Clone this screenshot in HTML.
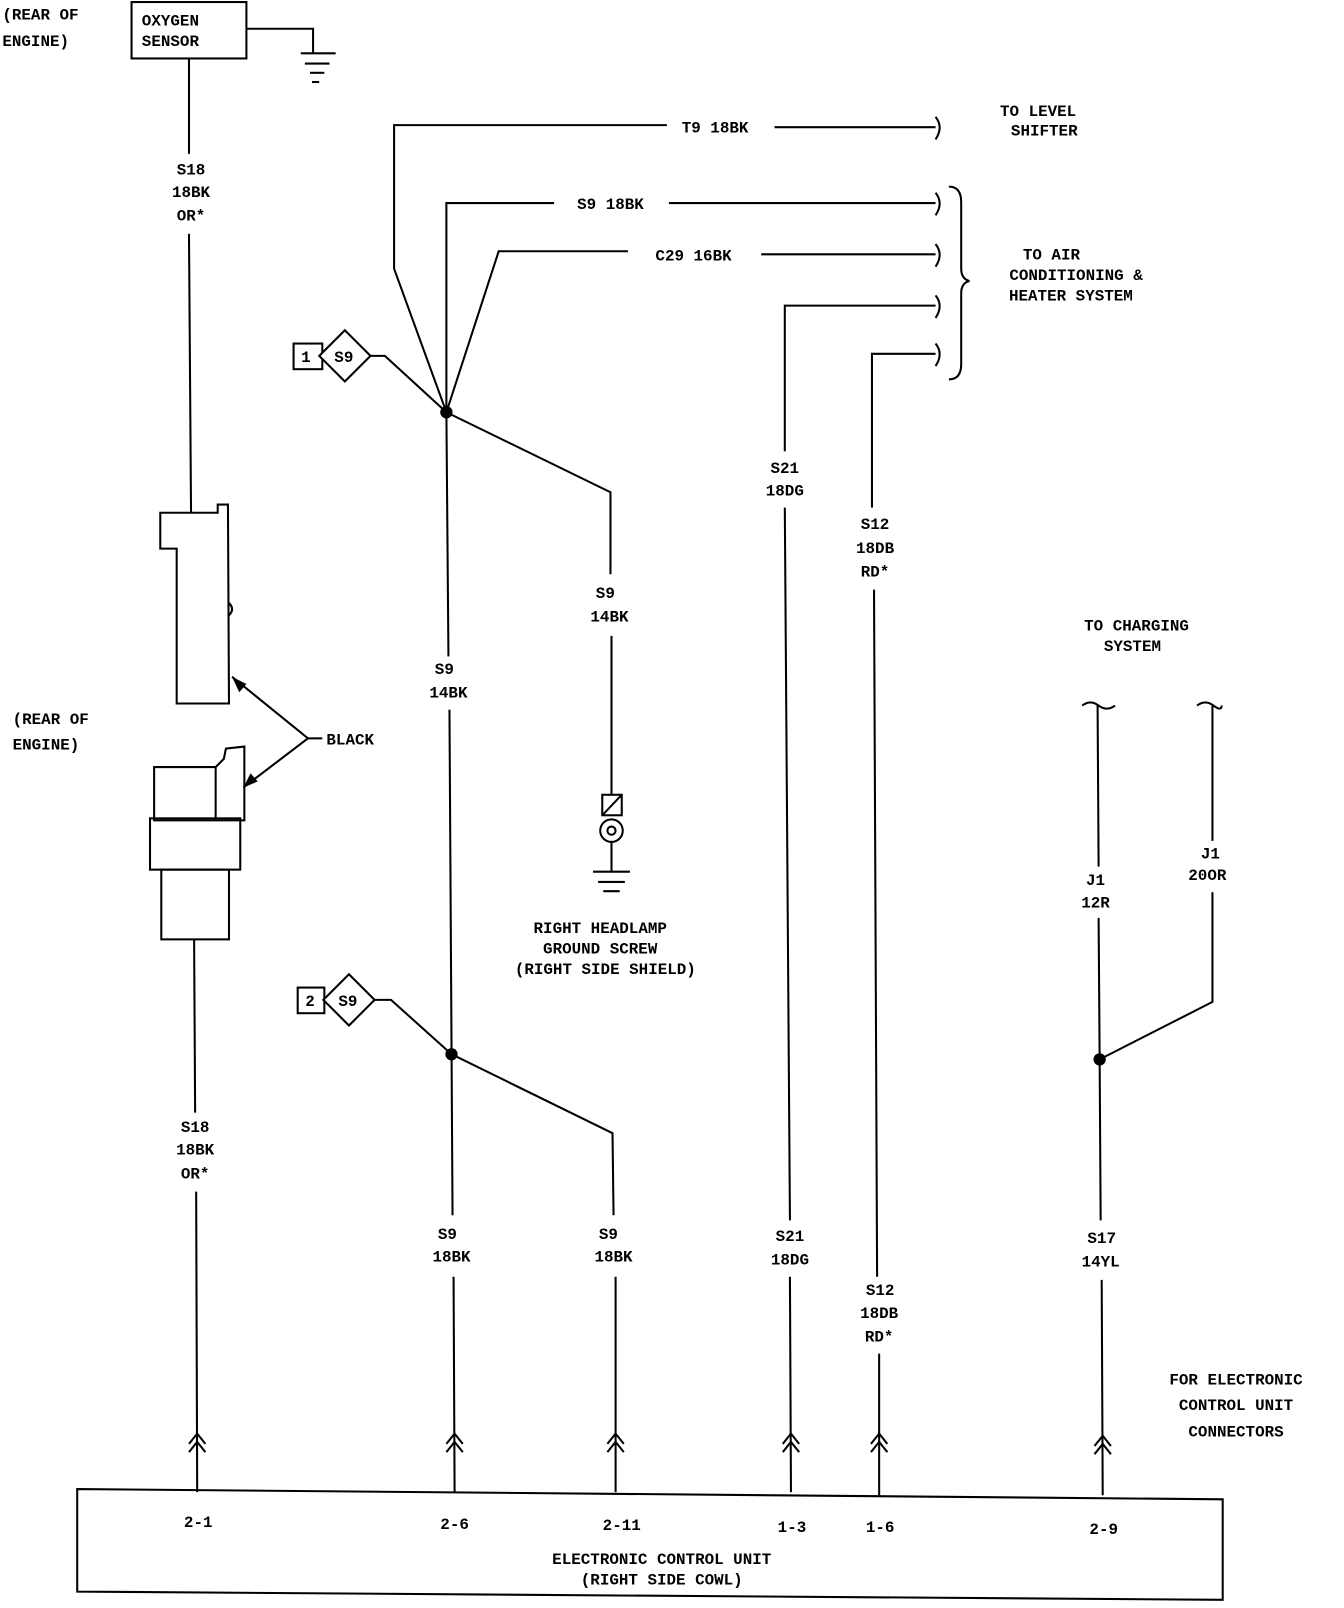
<!DOCTYPE html>
<html><head><meta charset="utf-8"><style>
html,body{margin:0;padding:0;background:#fff;}
svg{display:block;}
text{font-family:"Liberation Mono",monospace;font-size:15.5px;font-weight:bold;fill:#000;text-anchor:middle;}
.l{text-anchor:start;}
</style></head><body>
<svg width="1344" height="1608" viewBox="0 0 1310 1568" xmlns="http://www.w3.org/2000/svg">
<g stroke="#000" stroke-width="2" fill="none">
<rect x="128" y="2" width="112" height="55"/>
<polyline points="240,28 305,28 305,52"/>
<line x1="293" y1="52" x2="327" y2="52"/><line x1="297" y1="62" x2="321" y2="62"/>
<line x1="302" y1="71" x2="316" y2="71"/><line x1="304" y1="80" x2="311" y2="80"/>
<line x1="184" y1="57" x2="184" y2="150"/>
<line x1="184" y1="228" x2="186" y2="500"/>
<path d="M156,500 L212,500 L212,492 L222,492 L223,686 L172,686 L172,535 L156,535 Z"/>
<path d="M223,588 q6,6 0,12"/>
<path d="M150,800 L150,748 L210,748 L218,740 L220,730 L238,728 L238,800 Z M210,748 L210,798"/>
<rect x="146" y="798" width="88" height="50"/>
<rect x="157" y="848" width="66" height="68"/>
<polyline points="226,660 300,720 237,768"/>
<line x1="300" y1="720" x2="314" y2="720"/>
<line x1="189" y1="916" x2="190" y2="1085"/>
<line x1="191" y1="1162" x2="192" y2="1455"/>
<rect x="286" y="335" width="28" height="25"/>
<polygon points="336,322 361,347 336,372 311,347" fill="#fff"/>
<polyline points="361,347 375,347 435,402"/>
<polyline points="435,402 384,262 384,122 650,122"/>
<line x1="755" y1="124" x2="912" y2="124"/>
<polyline points="435,402 435,198 540,198"/>
<line x1="652" y1="198" x2="912" y2="198"/>
<polyline points="435,402 486,245 612,245"/>
<line x1="742" y1="248" x2="912" y2="248"/>
<polyline points="765,440 765,298 912,298"/>
<line x1="765" y1="495" x2="770" y2="1190"/>
<polyline points="850,495 850,345 912,345"/>
<line x1="852" y1="575" x2="855" y2="1245"/>
<line x1="857" y1="1320" x2="857" y2="1458"/>
<line x1="770" y1="1245" x2="771" y2="1455"/>
<path d="M912,114 q8,10 0,22 M912,188 q8,10 0,22 M912,238 q8,10 0,22 M912,288 q8,10 0,22 M912,335 q8,10 0,22"/>
<path d="M925,182 q12,0 12,15 L937,262 q0,10 8,12 q-8,2 -8,12 L937,355 q0,15 -12,15"/>
<polyline points="435,402 595,480 595,560"/>
<line x1="596" y1="620" x2="596" y2="775"/>
<rect x="587" y="775" width="19" height="20"/>
<line x1="587" y1="795" x2="606" y2="775"/>
<circle cx="596" cy="810" r="11"/><circle cx="596" cy="810" r="4"/>
<line x1="596" y1="821" x2="596" y2="850"/>
<line x1="578" y1="850" x2="614" y2="850"/><line x1="583" y1="860" x2="609" y2="860"/><line x1="588" y1="869" x2="604" y2="869"/>
<line x1="435" y1="402" x2="437" y2="640"/>
<line x1="438" y1="692" x2="441" y2="1185"/>
<line x1="442" y1="1245" x2="443" y2="1455"/>
<rect x="290" y="963" width="26" height="25"/>
<polygon points="340,950 365,975 340,1000 315,975" fill="#fff"/>
<polyline points="365,975 381,975 440,1028"/>
<polyline points="440,1028 597,1105 598,1185"/>
<line x1="600" y1="1245" x2="600" y2="1455"/>
<path d="M1055,688 q8,-6 16,0 q8,6 16,0 M1167,688 q8,-6 16,0 q8,6 8,0"/>
<line x1="1070" y1="688" x2="1071" y2="845"/>
<line x1="1071" y1="895" x2="1072" y2="1033"/>
<line x1="1182" y1="688" x2="1182" y2="820"/>
<polyline points="1182,870 1182,977 1072,1033"/>
<line x1="1072" y1="1033" x2="1073" y2="1190"/>
<line x1="1074" y1="1248" x2="1075" y2="1458"/>
<polygon points="75,1452 1192,1462 1192,1560 75,1552"/>
<path d="M184,1408 l8,-10 l8,10 M184,1416 l8,-10 l8,10 M435,1408 l8,-10 l8,10 M435,1416 l8,-10 l8,10 M592,1408 l8,-10 l8,10 M592,1416 l8,-10 l8,10 M763,1408 l8,-10 l8,10 M763,1416 l8,-10 l8,10 M849,1408 l8,-10 l8,10 M849,1416 l8,-10 l8,10 M1067,1410 l8,-10 l8,10 M1067,1418 l8,-10 l8,10"/>
</g>
<g fill="#000">
<polygon points="226,660 240,667 233,675"/>
<polygon points="237,768 244,754 251,762"/>
<circle cx="435" cy="402" r="6"/><circle cx="440" cy="1028" r="6"/><circle cx="1072" cy="1033" r="6"/>
</g>
<text class="l" x="2" y="19">(REAR OF</text><text class="l" x="2" y="45">ENGINE)</text>
<text class="l" x="138" y="25">OXYGEN</text><text class="l" x="138" y="45">SENSOR</text>
<text x="186" y="170">S18</text><text x="186" y="192">18BK</text><text x="186" y="215">OR*</text>
<text class="l" x="12" y="706">(REAR OF</text><text class="l" x="12" y="731">ENGINE)</text>
<text class="l" x="318" y="726">BLACK</text>
<text x="190" y="1104">S18</text><text x="190" y="1126">18BK</text><text x="190" y="1149">OR*</text>
<text x="298" y="353">1</text><text x="335" y="353">S9</text>
<text x="302" y="981">2</text><text x="339" y="981">S9</text>
<text x="697" y="129">T9 18BK</text>
<text x="595" y="204">S9 18BK</text>
<text x="676" y="254">C29 16BK</text>
<text x="1012" y="113">TO LEVEL</text><text x="1018" y="132">SHIFTER</text>
<text x="1025" y="253">TO AIR</text><text x="1049" y="273">CONDITIONING &amp;</text><text x="1044" y="293">HEATER SYSTEM</text>
<text x="765" y="461">S21</text><text x="765" y="483">18DG</text>
<text x="853" y="516">S12</text><text x="853" y="539">18DB</text><text x="853" y="562">RD*</text>
<text x="590" y="583">S9</text><text x="594" y="606">14BK</text>
<text x="433" y="657">S9</text><text x="437" y="680">14BK</text>
<text x="585" y="910">RIGHT HEADLAMP</text><text x="585" y="930">GROUND SCREW</text><text x="590" y="950">(RIGHT SIDE SHIELD)</text>
<text x="1108" y="615">TO CHARGING</text><text x="1104" y="635">SYSTEM</text>
<text x="1068" y="863">J1</text><text x="1068" y="885">12R</text>
<text x="1180" y="837">J1</text><text x="1177" y="858">20OR</text>
<text x="436" y="1208">S9</text><text x="440" y="1230">18BK</text>
<text x="593" y="1208">S9</text><text x="598" y="1230">18BK</text>
<text x="770" y="1210">S21</text><text x="770" y="1233">18DG</text>
<text x="858" y="1263">S12</text><text x="857" y="1285">18DB</text><text x="857" y="1308">RD*</text>
<text x="1074" y="1212">S17</text><text x="1073" y="1235">14YL</text>
<text x="1205" y="1350">FOR ELECTRONIC</text><text x="1205" y="1375">CONTROL UNIT</text><text x="1205" y="1401">CONNECTORS</text>
<text x="193" y="1489">2-1</text><text x="443" y="1491">2-6</text><text x="606" y="1492">2-11</text>
<text x="772" y="1494">1-3</text><text x="858" y="1494">1-6</text><text x="1076" y="1496">2-9</text>
<text x="645" y="1525">ELECTRONIC CONTROL UNIT</text><text x="645" y="1545">(RIGHT SIDE COWL)</text>
</svg>
</body></html>
